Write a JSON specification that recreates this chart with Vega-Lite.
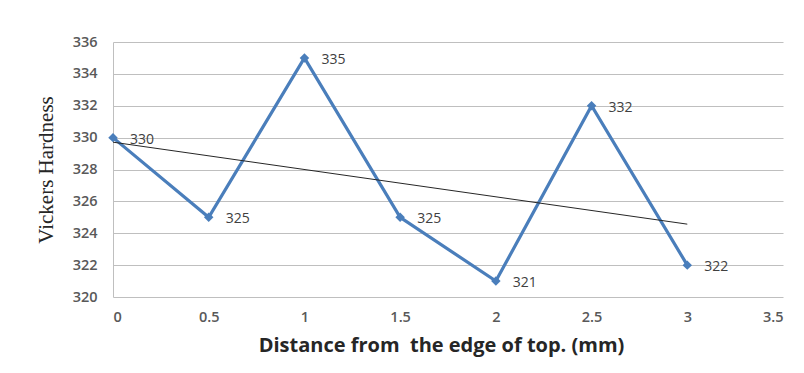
{
  "$schema": "https://vega.github.io/schema/vega-lite/v6.json",
  "width": 670,
  "height": 255,
  "autosize": "none",
  "padding": {"left": 113, "top": 42, "right": 21, "bottom": 76},
  "background": "white",
  "config": {"view": {"stroke": null}},
  "data": {"values": [
    {"x": 0, "y": 330},
    {"x": 0.5, "y": 325},
    {"x": 1, "y": 335},
    {"x": 1.5, "y": 325},
    {"x": 2, "y": 321},
    {"x": 2.5, "y": 332},
    {"x": 3, "y": 322}
  ]},
  "encoding": {
    "x": {"field": "x", "type": "quantitative",
      "scale": {"domain": [0, 3.5], "nice": false},
      "axis": {"values": [0, 0.5, 1, 1.5, 2, 2.5, 3, 3.5], "format": "~g", "grid": false, "domain": false, "ticks": false,
        "labelFont": "Open Sans", "labelFontSize": 14.5, "labelColor": "#595959", "labelFontWeight": 600, "labelPadding": 13,
        "title": "Distance from\u00a0 the edge of top. (mm)", "titleFont": "Open Sans", "titleFontSize": 20, "titleFontWeight": "bold", "titleColor": "#262626", "titlePadding": 12, "titleX": 328, "titleAnchor": "middle"}},
    "y": {"field": "y", "type": "quantitative",
      "scale": {"domain": [320, 336], "nice": false, "zero": false},
      "axis": {"values": [320, 322, 324, 326, 328, 330, 332, 334, 336], "grid": true, "gridColor": "#bfbfbf", "gridWidth": 1.2,
        "domain": true, "domainColor": "#bfbfbf", "ticks": false,
        "labelFont": "Open Sans", "labelFontSize": 14.5, "labelColor": "#595959", "labelFontWeight": 600, "labelPadding": 16,
        "title": "Vickers Hardness", "titleFont": "Liberation Serif", "titleFontSize": 21, "titleFontWeight": "normal", "titleColor": "#262626", "titlePadding": 16}}
  },
  "layer": [
    {"mark": {"type": "line", "color": "#4a7ebb", "strokeWidth": 3.2}},
    {"mark": {"type": "point", "shape": "diamond", "filled": true, "color": "#4a7ebb", "size": 90, "opacity": 1}},
    {"mark": {"type": "text", "align": "left", "baseline": "middle", "dx": 17, "dy": 2, "font": "Open Sans", "fontSize": 14, "color": "#404040"},
      "encoding": {"text": {"field": "y", "type": "quantitative"}}},
    {"transform": [{"regression": "y", "on": "x"}],
      "mark": {"type": "line", "color": "#262626", "strokeWidth": 1}}
  ]
}
